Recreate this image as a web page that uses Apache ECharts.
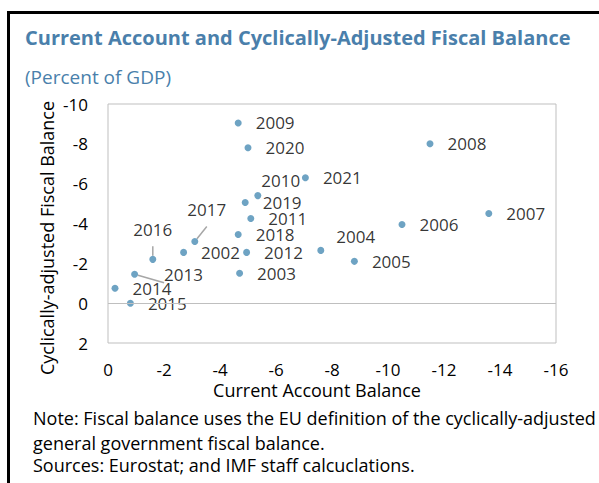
<!DOCTYPE html>
<html>
<head>
<meta charset="utf-8">
<script src="https://cdn.jsdelivr.net/npm/echarts@6/dist/echarts.min.js"></script>
<style>
    html, body { margin: 0; padding: 0; background: #fff; }
    #chart { width: 599px; height: 483px; }
</style>
</head>
<body>
<div id="chart"></div>
<script>
// years and values (percent of GDP)
var years = ['2002', '2003', '2004', '2005', '2006', '2007', '2008', '2009', '2010', '2011',
             '2012', '2013', '2014', '2015', '2016', '2017', '2018', '2019', '2020', '2021'];
var currentAccount = [-2.7, -4.7, -7.6, -8.8, -10.5, -13.6, -11.5, -4.65, -5.35, -5.1,
                      -4.95, -0.95, -0.25, -0.8, -1.6, -3.1, -4.65, -4.9, -5.0, -7.05];
var fiscalBalance = [-2.55, -1.5, -2.65, -2.1, -3.95, -4.5, -8.0, -9.05, -5.4, -4.25,
                     -2.55, -1.45, -0.75, 0.0, -2.2, -3.1, -3.45, -5.05, -7.8, -6.3];
var xRange = [-16, 0];
var yRange = [-10, 2];
var tickStep = 2;

var FONT = '"Open Sans", "Noto Sans", sans-serif';
var BLUE = '#4a7fab';

// labels that are moved off the default spot (some with a leader line)
var labelTweaks = {
    '2010': { offset: [-14, -15] },
    '2004': { offset: [-2, -14] },
    '2013': { offset: [12, 0], line: true },
    '2016': { position: 'top', distance: 18, line: true },
    '2017': { position: 'top', distance: 20, offset: [12, 0], line: true }
};

var points = [];
for (let i = 0; i < years.length; i++) {
    let p = { name: years[i], value: [currentAccount[i], fiscalBalance[i]] };
    let t = labelTweaks[years[i]];
    if (t) {
        p.label = {};
        if (t.position) p.label.position = t.position;
        if (t.distance != null) p.label.distance = t.distance;
        if (t.offset) p.label.offset = t.offset;
        if (t.line) p.labelLine = { show: true, length2: 0 };
    }
    points.push(p);
}

var myChart = echarts.init(document.getElementById('chart'), null, { renderer: 'svg' });

function note(text, y) {
    return { type: 'text', x: 33, y: y, style: {
        text: text, fill: '#000', font: '18px ' + FONT, lineHeight: 20,
        align: 'left', verticalAlign: 'middle' } };
}

var option = {
    animation: false,
    textStyle: { fontFamily: FONT },
    grid: {
        left: 108, top: 104, right: 43, bottom: 140,
        show: true, borderColor: '#bfbfbf', borderWidth: 1
    },
    xAxis: {
        type: 'value', inverse: true,
        min: xRange[0], max: xRange[1], interval: tickStep,
        axisLine: { show: false }, axisTick: { show: false }, splitLine: { show: false },
        axisLabel: { color: '#000', fontSize: 17, fontFamily: FONT, margin: 18 }
    },
    yAxis: {
        type: 'value', inverse: true,
        min: yRange[0], max: yRange[1], interval: tickStep,
        axisLine: { show: false }, axisTick: { show: false }, splitLine: { show: false },
        axisLabel: { color: '#000', fontSize: 17, fontFamily: FONT, margin: 20 }
    },
    series: [{
        type: 'scatter',
        symbolSize: 7,
        itemStyle: { color: '#4a8cb4' },
        emphasis: { disabled: true },
        data: points,
        label: {
            show: true, position: 'right', distance: 14, formatter: '{b}',
            color: '#000', fontSize: 17, lineHeight: 17, fontFamily: FONT
        },
        labelLine: { show: false, lineStyle: { color: '#a6a6a6', width: 1.5 } },
        markLine: {
            silent: true, symbol: 'none', label: { show: false },
            lineStyle: { color: '#bfbfbf', width: 1, type: 'solid' },
            data: [{ yAxis: 0 }]
        }
    }],
    graphic: [
        // frame
        { type: 'line', shape: { x1: 8.5, y1: 11, x2: 8.5, y2: 483 }, style: { stroke: '#000', lineWidth: 3 } },
        { type: 'line', shape: { x1: 7, y1: 12.5, x2: 599, y2: 12.5 }, style: { stroke: '#000', lineWidth: 3 } },
        // titles
        { type: 'text', x: 25, y: 37, style: {
            text: 'Current Account and Cyclically-Adjusted Fiscal Balance',
            fill: BLUE, font: 'bold 20px ' + FONT, align: 'left', verticalAlign: 'middle' } },
        { type: 'text', x: 25, y: 77, style: {
            text: '(Percent of GDP)',
            fill: BLUE, font: '19px ' + FONT, align: 'left', verticalAlign: 'middle' } },
        // axis names
        { type: 'text', x: 317, y: 390, style: {
            text: 'Current Account Balance',
            fill: '#000', font: '18px ' + FONT, lineHeight: 20, align: 'center', verticalAlign: 'middle' } },
        { type: 'text', x: 47, y: 238, rotation: Math.PI / 2, style: {
            text: 'Cyclically-adjusted Fiscal Balance',
            fill: '#000', font: '18px ' + FONT, align: 'center', verticalAlign: 'middle' } },
        // notes
        note('Note: Fiscal balance uses the EU definition of the cyclically-adjusted', 418),
        note('general government fiscal balance.', 443),
        note('Sources: Eurostat; and IMF staff calcuclations.', 465)
    ]
};

myChart.setOption(option);
</script>
</body>
</html>
